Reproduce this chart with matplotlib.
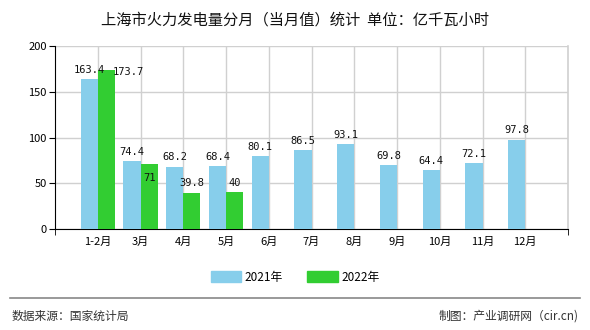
import matplotlib
matplotlib.use("Agg")
import matplotlib.pyplot as plt
import matplotlib.patches as patches
import numpy as np

plt.rcParams['font.family'] = ['Noto Sans CJK SC', 'DejaVu Sans']

months = ['1-2月', '3月', '4月', '5月', '6月', '7月', '8月', '9月', '10月', '11月', '12月']
v2021 = [163.4, 74.4, 68.2, 68.4, 80.1, 86.5, 93.1, 69.8, 64.4, 72.1, 97.8]
v2022 = [173.7, 71, 39.8, 40]
series_names = ['2021年', '2022年']

c2021 = '#87ceeb'
c2022 = '#32cd32'
bw = 0.4

fig = plt.figure(figsize=(5.9, 3.3), dpi=100)
ax = fig.add_axes([55/590, 101/330, 513/590, 183/330])

x = np.arange(1, len(months) + 1)
ax.bar(x - bw/2, v2021, bw, color=c2021, zorder=3)
x2 = x[:len(v2022)]
ax.bar(x2 + bw/2, v2022, bw, color=c2022, zorder=3)

# value labels (a couple are shifted like in the original)
lab_font = dict(family='DejaVu Sans Mono', fontsize=7.5, color='#111111')
for xi, v in zip(x, v2021):
    ax.annotate(f'{v:g}', (xi - bw/2, v), xytext=(0, 3), textcoords='offset points',
                ha='center', va='bottom', zorder=5, **lab_font)
shift = {0: (16, -5), 1: (0, -14)}
for i, (xi, v) in enumerate(zip(x2, v2022)):
    dx, dy = shift.get(i, (0, 3))
    ax.annotate(f'{v:g}', (xi + bw/2, v), xytext=(dx, dy), textcoords='offset points',
                ha='center', va='bottom', zorder=5, **lab_font)

ax.set_xlim(0, 12)
ax.set_ylim(0, 200)
ax.set_yticks([0, 50, 100, 150, 200])
ax.set_xticks(x)
ax.set_xticklabels(months)
ax.set_xticks(np.arange(0, 13), minor=True)

ax.grid(True, which='major', color='#d0d0d0', linewidth=1, zorder=0)
ax.axvline(12, color='#d0d0d0', linewidth=1.2, zorder=0, clip_on=False)
ax.tick_params(axis='x', which='major', length=0, labelsize=8, pad=6)
ax.tick_params(axis='x', which='minor', length=4, color='#000000')
ax.tick_params(axis='y', length=4, labelsize=8, pad=2)

for s in ['top', 'right']:
    ax.spines[s].set_visible(False)
ax.spines['left'].set_color('#000000')
ax.spines['bottom'].set_color('#000000')

handles = [patches.Patch(color=c2021), patches.Patch(color=c2022)]
fig.legend(handles, series_names, loc='center', bbox_to_anchor=(0.5, 1 - 277/330),
           ncol=2, frameon=False, fontsize=8.5, handlelength=2.6, handleheight=1.0,
           handletextpad=0.3, columnspacing=2.0)

fig.text(0.5, 1 - 20/330, '上海市火力发电量分月（当月值）统计  单位：亿千瓦小时',
         ha='center', va='center', fontsize=11, color='#111111')

fig.add_artist(plt.Line2D([10/590, 580/590], [1 - 298/330, 1 - 298/330],
                          color='#888888', linewidth=1.2))
fig.text(12/590, 1 - 316/330, '数据来源：国家统计局', ha='left', va='center',
         fontsize=8.5, color='#333333')
fig.text(579/590, 1 - 316/330, '制图：产业调研网（cir.cn)', ha='right', va='center',
         fontsize=8.5, color='#333333')

plt.savefig('out.png', dpi=100)
